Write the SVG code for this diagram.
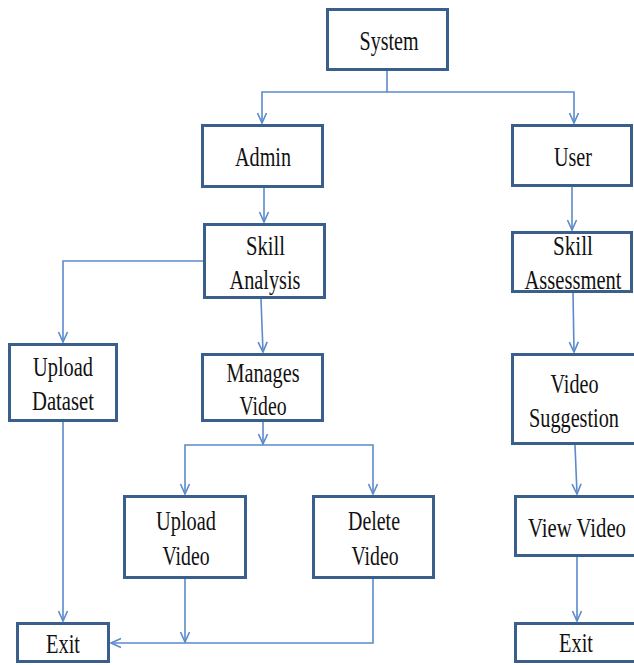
<svg xmlns="http://www.w3.org/2000/svg" width="634" height="665" viewBox="0 0 634 665">
<style>
.box{fill:#fff;stroke:#3b5f8c;stroke-width:3}
.t{font-family:"Liberation Serif","Times New Roman",serif;font-size:27px;fill:#111;text-anchor:middle}
.c{fill:none;stroke:#5b8bcb;stroke-width:1.6}
</style>
<defs>
<marker id="a" viewBox="-12 -6 14 12" refX="0" refY="0" markerWidth="14" markerHeight="12" markerUnits="userSpaceOnUse" orient="auto">
<path d="M-10,-4.5 L0,0 L-10,4.5" fill="none" stroke="#5b8bcb" stroke-width="1.6"/>
</marker>
</defs>
<rect width="634" height="665" fill="#fff"/>
<g id="connectors">
<path class="c" d="M387,71 V92 H262 V123" marker-end="url(#a)"/>
<path class="c" d="M387,92 H574 V123" marker-end="url(#a)"/>
<path class="c" d="M264,188 V222" marker-end="url(#a)"/>
<path class="c" d="M203,261 H63 V342" marker-end="url(#a)"/>
<path class="c" d="M261,299 L263,352" marker-end="url(#a)"/>
<path class="c" d="M263,422 V444" marker-end="url(#a)"/>
<path class="c" d="M263,445 H185 V494" marker-end="url(#a)"/>
<path class="c" d="M263,445 H373 V494" marker-end="url(#a)"/>
<path class="c" d="M63,422 V621" marker-end="url(#a)"/>
<path class="c" d="M185,579 V642" marker-end="url(#a)"/>
<path class="c" d="M373,579 V643 H111" marker-end="url(#a)"/>
<path class="c" d="M572,186 V230" marker-end="url(#a)"/>
<path class="c" d="M573,293 L574,352" marker-end="url(#a)"/>
<path class="c" d="M575,445 L577,494" marker-end="url(#a)"/>
<path class="c" d="M577,557 V621" marker-end="url(#a)"/>
</g>
<g id="system"><rect class="box" x="327.5" y="9.5" width="120" height="60"/><text class="t" x="389" y="50" textLength="59" lengthAdjust="spacingAndGlyphs">System</text></g>
<g id="admin"><rect class="box" x="202.5" y="125.5" width="120" height="61"/><text class="t" x="263" y="166" textLength="56" lengthAdjust="spacingAndGlyphs">Admin</text></g>
<g id="user"><rect class="box" x="512.5" y="125.5" width="119" height="60"/><text class="t" x="573" y="166" textLength="38" lengthAdjust="spacingAndGlyphs">User</text></g>
<g id="skill-analysis"><rect class="box" x="204.5" y="224.5" width="120" height="73"/><text class="t" x="265.5" y="254.5" textLength="39" lengthAdjust="spacingAndGlyphs">Skill</text><text class="t" x="265" y="289" textLength="71" lengthAdjust="spacingAndGlyphs">Analysis</text></g>
<g id="upload-dataset"><rect class="box" x="9.5" y="344.5" width="107" height="76"/><text class="t" x="63" y="376" textLength="60" lengthAdjust="spacingAndGlyphs">Upload</text><text class="t" x="63" y="410" textLength="62" lengthAdjust="spacingAndGlyphs">Dataset</text></g>
<g id="manages-video"><rect class="box" x="202.5" y="354.5" width="120" height="66"/><text class="t" x="263" y="381.5" textLength="73" lengthAdjust="spacingAndGlyphs">Manages</text><text class="t" x="263" y="415" textLength="47" lengthAdjust="spacingAndGlyphs">Video</text></g>
<g id="upload-video"><rect class="box" x="124.5" y="496.5" width="121" height="81"/><text class="t" x="186" y="530" textLength="60" lengthAdjust="spacingAndGlyphs">Upload</text><text class="t" x="186" y="565" textLength="47" lengthAdjust="spacingAndGlyphs">Video</text></g>
<g id="delete-video"><rect class="box" x="313.5" y="496.5" width="120" height="81"/><text class="t" x="374" y="530" textLength="52" lengthAdjust="spacingAndGlyphs">Delete</text><text class="t" x="375" y="565" textLength="47" lengthAdjust="spacingAndGlyphs">Video</text></g>
<g id="exit-admin"><rect class="box" x="17.5" y="623.5" width="91" height="38"/><text class="t" x="63" y="652.5" textLength="34" lengthAdjust="spacingAndGlyphs">Exit</text></g>
<g id="skill-assessment"><rect class="box" x="512.5" y="232.5" width="119" height="59"/><text class="t" x="573" y="255" textLength="40" lengthAdjust="spacingAndGlyphs">Skill</text><text class="t" x="573" y="289" textLength="97" lengthAdjust="spacingAndGlyphs">Assessment</text></g>
<g id="video-suggestion"><rect class="box" x="512.5" y="354.5" width="125" height="89"/><text class="t" x="574.5" y="393" textLength="48" lengthAdjust="spacingAndGlyphs">Video</text><text class="t" x="574" y="426.5" textLength="90" lengthAdjust="spacingAndGlyphs">Suggestion</text></g>
<g id="view-video"><rect class="box" x="515.5" y="496.5" width="122" height="59"/><text class="t" x="577" y="536.5" textLength="98" lengthAdjust="spacingAndGlyphs">View Video</text></g>
<g id="exit-user"><rect class="box" x="515.5" y="623.5" width="122" height="38"/><text class="t" x="576" y="652" textLength="34" lengthAdjust="spacingAndGlyphs">Exit</text></g>
</svg>
